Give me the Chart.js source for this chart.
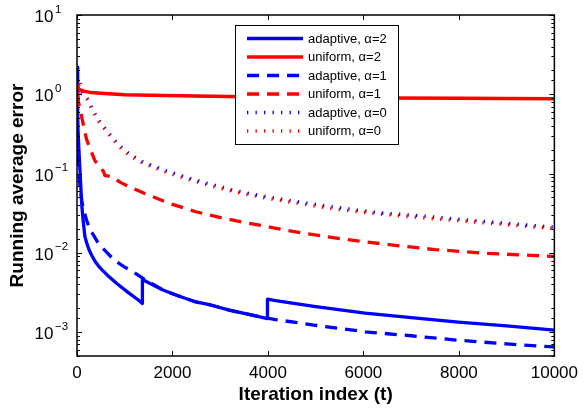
<!DOCTYPE html>
<html lang="en">
<head>
<meta charset="UTF-8">
<title>Running average error</title>
<script src="https://cdn.jsdelivr.net/npm/chart.js"></script>
<style>
    html, body { margin: 0; padding: 0; background: #fff; }
</style>
</head>
<body>
<canvas id="chart" width="585" height="410"></canvas>

<script>
    // values (t, running average error)
    var seriesLabels = ['adaptive, \u03b1=2', 'uniform, \u03b1=2', 'adaptive, \u03b1=1',
                        'uniform, \u03b1=1', 'adaptive, \u03b1=0', 'uniform, \u03b1=0'];

    var adaptive2T = [0, 8, 20, 40, 62, 100, 130, 166, 200, 250, 312, 380, 479, 625, 833, 1062, 1312, 1370,
                      1370, 1500, 1800, 2100, 2490, 2800, 3190, 3600, 3990,
                      3990, 4160, 5000, 6035, 7000, 7990, 9000, 10000];
    var adaptive2Y = [2.2, 1.0, 0.45, 0.2, 0.11, 0.04, 0.025, 0.016, 0.0135, 0.011, 0.0092, 0.0078, 0.0065, 0.0053, 0.0041, 0.0032, 0.00247, 0.0023,
                      0.0046, 0.0042, 0.0034, 0.0029, 0.0024, 0.0022, 0.0019, 0.00167, 0.00148,
                      0.0026, 0.0025, 0.0021, 0.00174, 0.00152, 0.00134, 0.0012, 0.00106];

    var adaptive1T = [0, 10, 30, 62, 100, 150, 200, 270, 340, 450, 618, 800, 1000, 1170, 1400, 1800, 2100, 2490,
                      2800, 3190, 3600, 3990, 4160, 5000, 6035, 7000, 7990, 9000, 10000];
    var adaptive1Y = [1.0, 0.5, 0.15, 0.07, 0.045, 0.033, 0.026, 0.0195, 0.017, 0.013, 0.0102, 0.0079, 0.0066, 0.0058, 0.0047, 0.0034, 0.0029, 0.0024,
                      0.0022, 0.0019, 0.00167, 0.0015, 0.00144, 0.00122, 0.00101, 0.0009, 0.00079, 0.00071, 0.00065];

    var uniform2T = [0, 15, 40, 130, 300, 500, 1000, 1520, 2500, 3500, 5000, 6500, 8000, 10000];
    var uniform2Y = [0.85, 1.25, 1.15, 1.1, 1.05, 1.03, 0.99, 0.97, 0.95, 0.93, 0.91, 0.9, 0.89, 0.88];

    var uniform1T = [0, 30, 100, 200, 375, 560, 580, 756, 900, 1100, 1420, 1940, 2490, 3040, 3540, 4060, 4520,
                     5540, 6580, 7500, 8540, 10000];
    var uniform1Y = [1.0, 0.8, 0.51, 0.27, 0.145, 0.105, 0.095, 0.09, 0.078, 0.068, 0.056, 0.042, 0.033, 0.0275, 0.024, 0.021, 0.0186,
                     0.015, 0.0126, 0.011, 0.0099, 0.009];

    var alpha0T = [0, 50, 120, 236, 340, 444, 652, 896, 1104, 1382, 1868, 2285, 2770, 3300, 3810, 4330, 5350, 6320, 7290, 8500, 10000];
    var adaptive0Y = [1.1, 1.2, 1.0, 0.85, 0.62, 0.48, 0.33, 0.225, 0.175, 0.14, 0.108, 0.09, 0.074, 0.061, 0.053, 0.047, 0.038, 0.032, 0.029, 0.025, 0.021];
    var uniform0Y = [1.0, 1.5, 1.1, 0.82, 0.6, 0.46, 0.32, 0.215, 0.168, 0.135, 0.104, 0.086, 0.071, 0.059, 0.051, 0.045, 0.036, 0.031, 0.0275, 0.024, 0.0202];

    var xTickStep = 2000;
    var yDecades = [1e-3, 1e-2, 1e-1, 1e0, 1e1];
    var yExponents = ['\u22123', '\u22122', '\u22121', '0', '1'];

    var FONT = "'Liberation Sans', Arial, Helvetica, sans-serif";
    var BLUE = '#0000ff', RED = '#ff0000';

    function pts(T, Y) {
        return T.map(function (t, i) { return { x: t, y: Y[i] }; });
    }

    function line(label, T, Y, color, width, dash, order) {
        return {
            label: label,
            data: pts(T, Y),
            borderColor: color,
            borderWidth: width,
            borderDash: dash,
            borderCapStyle: 'butt',
            borderJoinStyle: 'round',
            pointRadius: 0,
            fill: false,
            tension: 0,
            order: order
        };
    }

    // box, inward ticks, y labels with exponents, legend
    var framePlugin = {
        id: 'frame',
        afterDatasetsDraw: function (chart) {
            var ctx = chart.ctx, a = chart.chartArea;
            var xs = chart.scales.x, ys = chart.scales.y;
            ctx.save();
            ctx.strokeStyle = '#000';
            ctx.lineWidth = 1;
            ctx.beginPath();
            xs.ticks.forEach(function (t) {
                var px = Math.round(xs.getPixelForValue(t.value)) + 0.5;
                ctx.moveTo(px, a.bottom); ctx.lineTo(px, a.bottom - 5);
                ctx.moveTo(px, a.top); ctx.lineTo(px, a.top + 5);
            });
            ys.ticks.forEach(function (t) {
                var lg = Math.log10(t.value);
                var major = Math.abs(lg - Math.round(lg)) < 1e-6;
                var len = major ? 5 : 3;
                var py = Math.round(ys.getPixelForValue(t.value)) + 0.5;
                ctx.moveTo(a.left, py); ctx.lineTo(a.left + len, py);
                ctx.moveTo(a.right, py); ctx.lineTo(a.right - len, py);
            });
            ctx.stroke();

            ctx.lineWidth = 1.5;
            ctx.strokeRect(a.left, a.top, a.right - a.left, a.bottom - a.top);

            ctx.fillStyle = '#000';
            ctx.textBaseline = 'alphabetic';
            yDecades.forEach(function (v, i) {
                var py = ys.getPixelForValue(v);
                ctx.font = '17px ' + FONT;
                ctx.textAlign = 'right';
                ctx.fillText('10', 53.5, py + 7);
                ctx.font = '11.5px ' + FONT;
                ctx.textAlign = 'left';
                ctx.fillText(yExponents[i], 55, py - 2.5);
            });
            ctx.restore();
        },
        afterDraw: function (chart) {
            var ctx = chart.ctx;
            var bx = 235.5, by = 25.5, bw = 163, bh = 119;
            ctx.save();
            ctx.fillStyle = '#fff';
            ctx.fillRect(bx, by, bw, bh);
            ctx.strokeStyle = '#000';
            ctx.lineWidth = 1;
            ctx.strokeRect(bx, by, bw, bh);
            chart.data.datasets.forEach(function (ds, i) {
                var y = 38.5 + i * 18.5;
                ctx.strokeStyle = ds.borderColor;
                ctx.lineWidth = ds.borderWidth;
                ctx.lineCap = 'butt';
                ctx.setLineDash(ds.borderDash || []);
                ctx.beginPath();
                ctx.moveTo(247, y);
                ctx.lineTo(303, y);
                ctx.stroke();
                ctx.setLineDash([]);
                ctx.fillStyle = '#000';
                ctx.font = '13px ' + FONT;
                ctx.textAlign = 'left';
                ctx.textBaseline = 'middle';
                ctx.fillText(ds.label, 308, y + 0.5);
            });
            ctx.restore();
        }
    };

    Chart.defaults.font.family = FONT;
    Chart.defaults.color = '#000';

    var datasets = [
        line(seriesLabels[0], adaptive2T, adaptive2Y, BLUE, 3.3, [], 6),
        line(seriesLabels[1], uniform2T, uniform2Y, RED, 3.5, [], 5),
        line(seriesLabels[2], adaptive1T, adaptive1Y, BLUE, 3.3, [12, 8], 4),
        line(seriesLabels[3], uniform1T, uniform1Y, RED, 3.3, [12, 8], 3),
        line(seriesLabels[4], alpha0T, adaptive0Y, BLUE, 3.5, [1.3, 7.2], 2),
        line(seriesLabels[5], alpha0T, uniform0Y, RED, 3.5, [1.3, 7.2], 1)
    ];

    new Chart(document.getElementById('chart'), {
        type: 'line',
        data: { datasets: datasets },
        options: {
            responsive: false,
            animation: false,
            devicePixelRatio: 1,
            layout: { padding: { left: 0, right: 28, top: 15, bottom: 0 } },
            plugins: { legend: { display: false }, tooltip: { enabled: false } },
            scales: {
                x: {
                    type: 'linear',
                    min: 0,
                    max: 10000,
                    ticks: {
                        stepSize: xTickStep,
                        maxRotation: 0,
                        padding: 7,
                        font: { size: 17 },
                        color: '#000',
                        callback: function (v) { return String(v); }
                    },
                    grid: { display: false, drawTicks: false },
                    border: { display: false },
                    title: {
                        display: true,
                        text: 'Iteration index (t)',
                        font: { size: 19, weight: 'bold' },
                        color: '#000',
                        padding: { top: 0, bottom: 4 }
                    },
                    afterFit: function (s) { s.height = 54; }
                },
                y: {
                    type: 'logarithmic',
                    min: 5e-4,
                    max: 10,
                    ticks: { display: false },
                    grid: { display: false, drawTicks: false },
                    border: { display: false },
                    title: {
                        display: true,
                        text: 'Running average error',
                        font: { size: 19, weight: 'bold' },
                        color: '#000',
                        padding: { top: 6, bottom: 0 }
                    },
                    afterFit: function (s) { s.width = 77; }
                }
            }
        },
        plugins: [framePlugin]
    });
</script>
</body>
</html>
